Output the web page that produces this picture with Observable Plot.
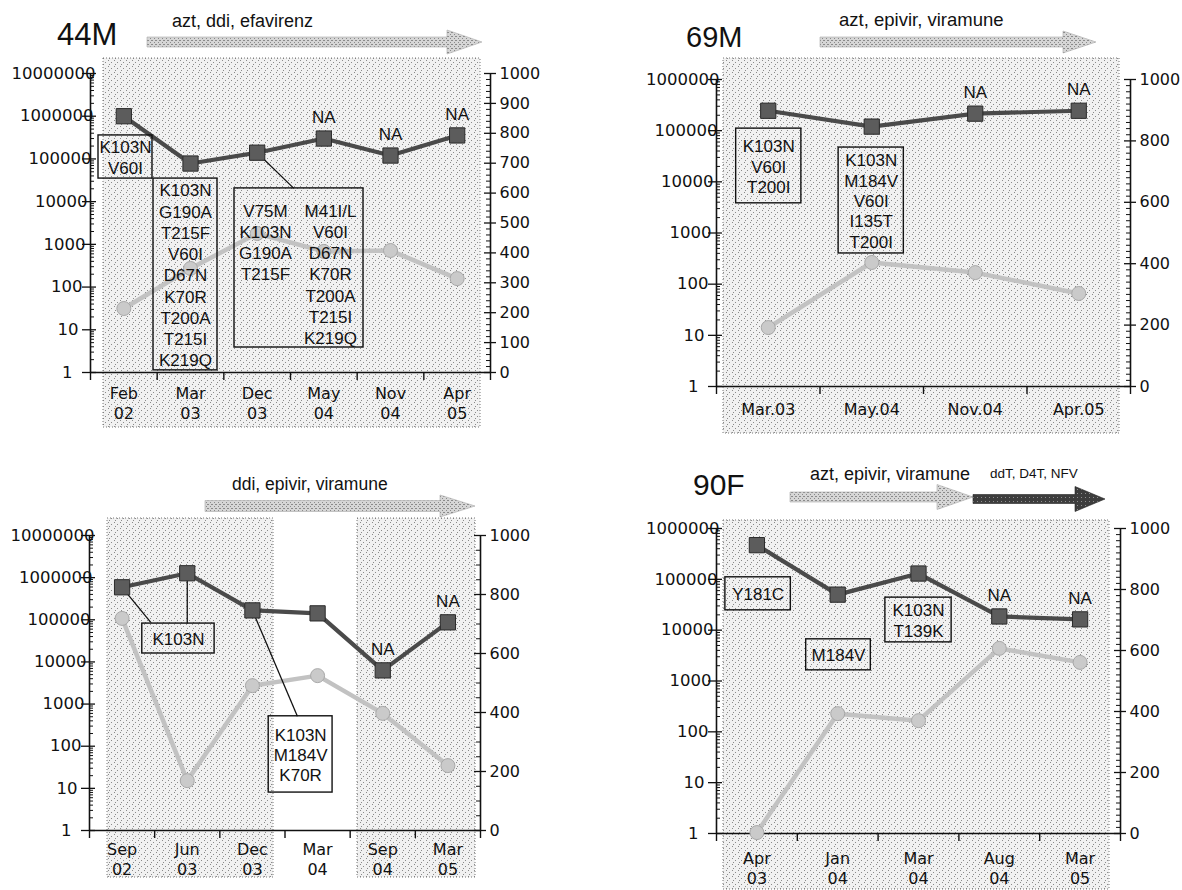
<!DOCTYPE html>
<html>
<head>
<meta charset="utf-8">
<script src="https://cdn.jsdelivr.net/npm/d3@7"></script>
<script src="https://cdn.jsdelivr.net/npm/@observablehq/plot@0.6"></script>
<style>
  body { margin: 0; background: #fff; }
  #root { position: relative; width: 1182px; height: 890px; overflow: hidden; font-family: "Liberation Sans", Arial, sans-serif; }
  #decor { position: absolute; left: 0; top: 0; z-index: 0; }
  .panel { position: absolute; z-index: 1; }
</style>
</head>
<body>
<div id="root"><svg id="decor" width="1182" height="890"></svg></div>
<script>
// ---------------- DATA ----------------
// Patient 44M
const p44Dates = ["Feb\n02", "Mar\n03", "Dec\n03", "May\n04", "Nov\n04", "Apr\n05"];
const p44ViralLoad = [1000000, 78000, 140000, 300000, 120000, 355000];
const p44CD4 = [214, 348, 465, 405, 408, 314];
const p44NA = [false, false, false, true, true, true];
const p44Mutations = [
  ["K103N", "V60I"],
  ["K103N", "G190A", "T215F", "V60I", "D67N", "K70R", "T200A", "T215I", "K219Q"],
  [["V75M", "K103N", "G190A", "T215F"], ["M41I/L", "V60I", "D67N", "K70R", "T200A", "T215I", "K219Q"]]
];
const p44Drugs = "azt, ddi, efavirenz";

// Patient 69M
const p69Dates = ["Mar.03", "May.04", "Nov.04", "Apr.05"];
const p69ViralLoad = [245000, 120000, 215000, 245000];
const p69CD4 = [192, 404, 371, 303];
const p69NA = [false, false, true, true];
const p69Mutations = [
  ["K103N", "V60I", "T200I"],
  ["K103N", "M184V", "V60I", "I135T", "T200I"]
];
const p69Drugs = "azt, epivir, viramune";

// Bottom-left patient
const pBLDates = ["Sep\n02", "Jun\n03", "Dec\n03", "Mar\n04", "Sep\n04", "Mar\n05"];
const pBLViralLoad = [590000, 1270000, 167000, 142000, 6300, 87000];
const pBLCD4 = [719, 169, 491, 525, 397, 220];
const pBLNA = [false, false, false, false, true, true];
const pBLMutations = [
  ["K103N"],
  ["K103N", "M184V", "K70R"]
];
const pBLDrugs = "ddi, epivir, viramune";

// Patient 90F
const p90Dates = ["Apr\n03", "Jan\n04", "Mar\n04", "Aug\n04", "Mar\n05"];
const p90ViralLoad = [470000, 50000, 130000, 18600, 16300];
const p90CD4 = [3, 393, 370, 607, 561];
const p90NA = [false, false, false, true, true];
const p90Mutations = [
  ["Y181C"],
  ["M184V"],
  ["K103N", "T139K"]
];
const p90Drugs = "azt, epivir, viramune";
const p90Drugs2 = "ddT, D4T, NFV";

// ---------------- DECOR (page layout: shading, titles, treatment arrows) ----------------
const decor = d3.select("#decor");
const defs = decor.append("defs");
function makePattern(id, size, bg, dotColor, dots) {
  const p = defs.append("pattern").attr("id", id).attr("width", size).attr("height", size)
    .attr("patternUnits", "userSpaceOnUse");
  p.append("rect").attr("width", size).attr("height", size).attr("fill", bg);
  dots.forEach(([x, y]) => p.append("rect").attr("x", x).attr("y", y).attr("width", 1).attr("height", 1).attr("fill", dotColor));
}
makePattern("stip", 6, "#f1f1f1", "#8a8a8a", [[0, 0], [3, 2], [1, 4]]);
makePattern("arrL", 4, "#d6d6d6", "#8a8a8a", [[0, 0], [2, 2], [3, 0]]);
makePattern("arrD", 4, "#3d3d3d", "#8f8f8f", [[1, 1]]);

const shadeRects = [
  [103, 58, 480, 427],
  [723, 58, 1119, 433],
  [107, 518, 273, 877],
  [357, 518, 475, 877],
  [723, 520, 1109, 889]
];
shadeRects.forEach(([x0, y0, x1, y1]) => {
  decor.append("rect").attr("x", x0).attr("y", y0).attr("width", x1 - x0).attr("height", y1 - y0)
    .attr("fill", "url(#stip)").attr("stroke", "#777").attr("stroke-width", 1).attr("stroke-dasharray", "1 2");
});

function arrow(x0, xh, tip, yc, sh, hh, fill) {
  decor.append("path")
    .attr("d", `M${x0},${yc - sh / 2}H${xh}V${yc - hh / 2}L${tip},${yc}L${xh},${yc + hh / 2}V${yc + sh / 2}H${x0}Z`)
    .attr("fill", fill).attr("stroke", fill === "url(#arrD)" ? "#222" : "#aaa").attr("stroke-width", 0.6);
}
arrow(147, 447, 482, 42, 10, 24, "url(#arrL)");
arrow(820, 1063, 1096, 42, 10, 22, "url(#arrL)");
arrow(205, 440, 475, 506, 11, 22, "url(#arrL)");
arrow(790, 937, 973, 497, 10, 25, "url(#arrL)");
arrow(973, 1075, 1105, 499, 9, 25, "url(#arrD)");

function label(x, y, text, size, anchor = "start") {
  decor.append("text").attr("x", x).attr("y", y).attr("font-size", size)
    .attr("font-family", "Liberation Sans, Arial, sans-serif").attr("text-anchor", anchor).attr("fill", "#111").text(text);
}
label(57, 45, "44M", 31);
label(686, 47, "69M", 29);
label(693, 495, "90F", 30);
label(172, 27, p44Drugs, 18);
label(839, 26, p69Drugs, 18.5);
label(232, 490, pBLDrugs, 17.5);
label(810, 480, p90Drugs, 18);
label(990, 478, p90Drugs2, 13.5);

// ---------------- PANELS ----------------
// horizontal offset (px) of the right end of a left-axis label, by digit count (as in the scan)
const leftLabelShift = {1: -18, 2: -12, 3: -8, 4: -5, 5: -3, 6: 1, 7: 3, 8: 5};

function panel(cfg) {
  const n = cfg.dates.length;
  const D = cfg.decades;
  const yTop = 10 ** D;
  const cd4ToY = v => 10 ** (v / 1000 * D);
  const rows = cfg.dates.map((d, i) => ({i: i + 0.5, vl: cfg.vl[i], cd4: cfg.cd4[i], na: cfg.na[i]}));
  const bw = (cfg.width - cfg.ml - cfg.mr) / n;
  const px = p => p / bw;
  const decades = d3.range(D + 1).map(k => 10 ** k);
  const minor = [];
  for (let k = 0; k < D; k++) for (let m = 2; m <= 9; m++) minor.push(m * 10 ** k);
  const rMajor = d3.range(0, 1001, cfg.rStep);
  const rMinor = d3.range(0, 1001, cfg.rMinor).filter(v => v % cfg.rStep !== 0);

  const boxes = cfg.boxes.map(b => ({...b, y1: 10 ** b.e1, y2: 10 ** b.e2}));
  const centred = boxes.filter(b => !b.cols);
  const cols = boxes.filter(b => b.cols).flatMap(b => b.cols.map(c => ({x: c.x, y: 10 ** b.eText, lines: c.lines})));
  const leaders = cfg.leaders.map(l => ({x1: rows[l.from].i, y1: rows[l.from].vl, x2: l.x, y2: 10 ** l.e}));

  const fontText = "Liberation Sans, Arial, sans-serif";
  const fontAxis = "DejaVu Sans, sans-serif";
  const chart = Plot.plot({
    width: cfg.width,
    height: cfg.height,
    marginLeft: cfg.ml,
    marginRight: cfg.mr,
    marginTop: cfg.mt,
    marginBottom: cfg.mb,
    style: {background: "none", fontFamily: fontAxis, color: "#111", overflow: "visible"},
    x: {type: "linear", domain: [0, n]},
    y: {type: "log", domain: [1, yTop], axis: null},
    marks: [
      // left log axis: inner minor ticks, outer major ticks
      Plot.ruleY(minor, {y: d => d, x1: 0, x2: px(4), stroke: "#111", strokeWidth: 1}),
      Plot.ruleY(decades, {y: d => d, x1: -px(8), x2: px(6), stroke: "#111", strokeWidth: 1.3}),
      // right linear (CD4) axis
      Plot.ruleY(rMinor.map(cd4ToY), {y: d => d, x1: n - px(4), x2: n, stroke: "#111", strokeWidth: 1}),
      Plot.ruleY(rMajor.map(cd4ToY), {y: d => d, x1: n - px(6), x2: n + px(6), stroke: "#111", strokeWidth: 1.3}),
      // axis lines
      Plot.ruleX([0], {y1: 1, y2: yTop, stroke: "#111", strokeWidth: 1.6}),
      Plot.ruleX([n], {y1: 1, y2: yTop, stroke: "#111", strokeWidth: 1.6}),
      Plot.ruleY([1], {x1: 0, x2: n, stroke: "#111", strokeWidth: 1.6}),
      // axis labels
      Plot.text(decades, {x: d => px(leftLabelShift[String(d).length]), y: d => d, text: d => String(d),
        textAnchor: "end", fontSize: 16.5, fontFamily: fontAxis, fill: "#111"}),
      Plot.text(rMajor, {x: n, y: v => cd4ToY(v), text: v => String(v), dx: 9, textAnchor: "start",
        fontSize: 16, fontFamily: fontAxis, fill: "#111"}),
      Plot.axisX({ticks: d3.range(n + 1), tickSize: 8, tickFormat: () => "", label: null, strokeWidth: 1.4}),
      Plot.axisX({ticks: rows.map(r => r.i), tickSize: 0, tickPadding: cfg.xPad, tickFormat: v => cfg.dates[Math.floor(v)],
        fontSize: 16, lineHeight: 1.22, label: null}),
      // CD4 series (right axis)
      Plot.line(rows, {x: "i", y: r => cd4ToY(r.cd4), stroke: "#c2c2c2", strokeWidth: 4.5}),
      Plot.dot(rows, {x: "i", y: r => cd4ToY(r.cd4), r: 7, fill: "#cacaca", stroke: "#a8a8a8", strokeWidth: 1}),
      // leader lines
      Plot.link(leaders, {x1: "x1", y1: "y1", x2: "x2", y2: "y2", stroke: "#111", strokeWidth: 1.3}),
      // viral load series (left log axis)
      Plot.line(rows, {x: "i", y: "vl", stroke: "#4a4a4a", strokeWidth: 4.2}),
      Plot.dot(rows, {x: "i", y: "vl", symbol: "square", r: 8.6, fill: "#5c5c5c", stroke: "#2a2a2a", strokeWidth: 1}),
      Plot.text(rows.filter(r => r.na), {x: "i", y: "vl", text: () => "NA", dy: -21, fontSize: 17, fontFamily: fontText, fill: "#111"}),
      // mutation boxes
      Plot.rect(boxes, {x1: "x1", x2: "x2", y1: "y1", y2: "y2", fill: "none", stroke: "#111", strokeWidth: 1.4}),
      Plot.text(centred, {x: b => (b.x1 + b.x2) / 2, y: b => Math.sqrt(b.y1 * b.y2), text: b => b.lines.join("\n"),
        fontSize: 17, lineHeight: cfg.boxLH, fontFamily: fontText, fill: "#111"}),
      Plot.text(cols, {x: "x", y: "y", text: c => c.lines.join("\n"), lineAnchor: "top",
        fontSize: 17, lineHeight: cfg.boxLH, fontFamily: fontText, fill: "#111"})
    ]
  });
  const div = document.createElement("div");
  div.className = "panel";
  div.style.left = cfg.left + "px";
  div.style.top = cfg.top + "px";
  div.appendChild(chart);
  document.getElementById("root").appendChild(div);
}

panel({
  left: 0, top: 0, width: 545, height: 430, ml: 90, mr: 55, mt: 73, mb: 58,
  decades: 7, rStep: 100, rMinor: 20, xPad: 13, boxLH: 1.25,
  dates: p44Dates, vl: p44ViralLoad, cd4: p44CD4, na: p44NA,
  boxes: [
    {x1: 0.12, x2: 0.93, e1: 5.55, e2: 4.54, lines: p44Mutations[0]},
    {x1: 0.945, x2: 1.905, e1: 4.54, e2: 0.05, lines: p44Mutations[1]},
    {x1: 2.16, x2: 4.095, e1: 4.31, e2: 0.585, eText: 4.0,
      cols: [{x: 2.625, lines: p44Mutations[2][0]}, {x: 3.6, lines: p44Mutations[2][1]}]}
  ],
  leaders: [{from: 2, x: 3.05, e: 4.31}]
});

panel({
  left: 600, top: 0, width: 582, height: 440, ml: 116, mr: 52, mt: 79, mb: 54,
  decades: 6, rStep: 200, rMinor: 20, xPad: 15, boxLH: 1.2,
  dates: p69Dates, vl: p69ViralLoad, cd4: p69CD4, na: p69NA,
  boxes: [
    {x1: 0.19, x2: 0.82, e1: 5.04, e2: 3.58, lines: p69Mutations[0]},
    {x1: 1.18, x2: 1.81, e1: 4.67, e2: 2.60, lines: p69Mutations[1]}
  ],
  leaders: []
});

panel({
  left: 0, top: 440, width: 535, height: 450, ml: 89, mr: 55, mt: 95, mb: 60,
  decades: 7, rStep: 200, rMinor: 50, xPad: 11, boxLH: 1.2,
  dates: pBLDates, vl: pBLViralLoad, cd4: pBLCD4, na: pBLNA,
  boxes: [
    {x1: 0.81, x2: 1.92, e1: 4.91, e2: 4.20, lines: pBLMutations[0]},
    {x1: 2.75, x2: 3.73, e1: 2.71, e2: 0.90, lines: pBLMutations[1]}
  ],
  leaders: [{from: 0, x: 0.94, e: 4.94}, {from: 1, x: 1.5, e: 4.91}, {from: 2, x: 3.19, e: 2.71}]
});

panel({
  left: 600, top: 440, width: 575, height: 450, ml: 116, mr: 55, mt: 88, mb: 57,
  decades: 6, rStep: 200, rMinor: 20, xPad: 17, boxLH: 1.2,
  dates: p90Dates, vl: p90ViralLoad, cd4: p90CD4, na: p90NA,
  boxes: [
    {x1: 0.11, x2: 0.92, e1: 5.04, e2: 4.39, lines: p90Mutations[0]},
    {x1: 1.11, x2: 1.91, e1: 3.82, e2: 3.21, lines: p90Mutations[1]},
    {x1: 2.09, x2: 2.91, e1: 4.64, e2: 3.76, lines: p90Mutations[2]}
  ],
  leaders: []
});
</script>
</body>
</html>
